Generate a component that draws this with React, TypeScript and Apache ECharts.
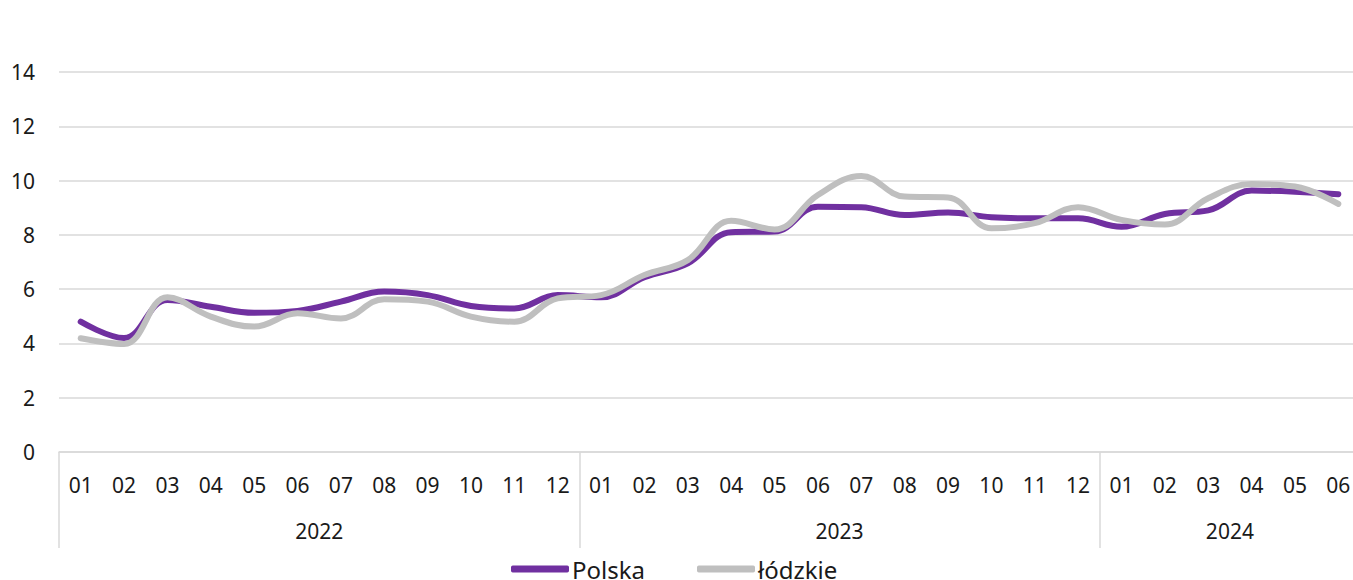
import React, { useEffect, useRef } from "react";
import * as echarts from "echarts";

const months = [
  "01", "02", "03", "04", "05", "06", "07", "08", "09", "10", "11", "12",
  "01", "02", "03", "04", "05", "06", "07", "08", "09", "10", "11", "12",
  "01", "02", "03", "04", "05", "06",
];
const years = ["2022", "2023", "2024"];
const yearCenters = [6, 18, 27];
const yearBoundaries = [0, 12, 24];

const polska = [
  4.8, 4.2, 5.6, 5.35, 5.13, 5.2, 5.54, 5.91, 5.78, 5.38, 5.29, 5.78,
  5.7, 6.44, 6.95, 8.1, 8.12, 9.04, 9.02, 8.73, 8.82, 8.65, 8.61, 8.61,
  8.3, 8.77, 8.9, 9.63, 9.59, 9.5,
];
const lodzkie = [
  4.19, 3.98, 5.7, 4.99, 4.62, 5.11, 4.92, 5.63, 5.54, 4.99, 4.8, 5.66,
  5.78, 6.52, 7.07, 8.52, 8.2, 9.47, 10.17, 9.41, 9.38, 8.24, 8.43, 9.02,
  8.55, 8.38, 9.35, 9.87, 9.78, 9.14,
];

const FONT = "'Noto Sans', sans-serif";
const GRID = "#D9D9D9";
const TEXT = "#1a1a1a";

export default function App() {
  const ref = useRef<HTMLDivElement>(null);

  useEffect(() => {
    if (!ref.current) return;
    const chart = echarts.init(ref.current, undefined, { renderer: "svg" });
    chart.setOption({
      animation: false,
      backgroundColor: "#ffffff",
      grid: { left: 59, right: 0, top: 72, bottom: 128, containLabel: false },
      legend: {
        left: 506,
        top: 552,
        itemWidth: 58,
        itemHeight: 7,
        itemGap: 52,
        icon: "roundRect",
        textStyle: { fontFamily: FONT, fontSize: 24, color: TEXT, padding: [0, 0, 0, -2] },
        data: ["Polska", "łódzkie"],
      },
      xAxis: [
        {
          type: "category",
          data: months,
          boundaryGap: true,
          axisLine: { show: true, lineStyle: { color: GRID, width: 1.5 } },
          axisTick: { show: false },
          axisLabel: {
            interval: 0,
            margin: 22,
            fontFamily: FONT,
            fontSize: 21,
            color: TEXT,
          },
          splitLine: { show: false },
        },
        {
          type: "value",
          min: 0,
          max: 30,
          interval: 3,
          position: "bottom",
          axisLine: { show: false },
          axisTick: { show: false },
          splitLine: { show: false },
          axisLabel: {
            margin: 68,
            fontFamily: FONT,
            fontSize: 21,
            color: TEXT,
            showMinLabel: true,
            showMaxLabel: true,
            formatter: (v: number) => {
              const i = yearCenters.indexOf(v);
              return i >= 0 ? years[i] : "";
            },
          },
        },
        {
          type: "value",
          min: 0,
          max: 30,
          interval: 12,
          position: "bottom",
          axisLine: { show: false },
          axisLabel: { show: false },
          splitLine: { show: false },
          axisTick: {
            show: true,
            length: 96,
            lineStyle: { color: GRID, width: 1.5 },
            customValues: yearBoundaries,
          },
        },
      ],
      yAxis: {
        type: "value",
        min: 0,
        max: 14,
        interval: 2,
        axisLine: { show: false },
        axisTick: { show: false },
        axisLabel: {
          margin: 24,
          fontFamily: FONT,
          fontSize: 21,
          color: TEXT,
        },
        splitLine: { show: true, lineStyle: { color: GRID, width: 1.5 } },
      },
      series: [
        {
          name: "Polska",
          type: "line",
          data: polska,
          smooth: 0.4,
          symbol: "none",
          lineStyle: { color: "#7030A0", width: 6, cap: "round" },
          itemStyle: { color: "#7030A0" },
        },
        {
          name: "łódzkie",
          type: "line",
          data: lodzkie,
          smooth: 0.4,
          symbol: "none",
          lineStyle: { color: "#BFBFBF", width: 6, cap: "round" },
          itemStyle: { color: "#BFBFBF" },
        },
      ],
    });
    return () => chart.dispose();
  }, []);

  return (
    <div
      style={{
        position: "fixed",
        left: 0,
        top: 0,
        width: 1353,
        height: 580,
        overflow: "hidden",
        background: "#fff",
      }}
    >
      <div ref={ref} style={{ width: 1363, height: 580 }} />
    </div>
  );
}
